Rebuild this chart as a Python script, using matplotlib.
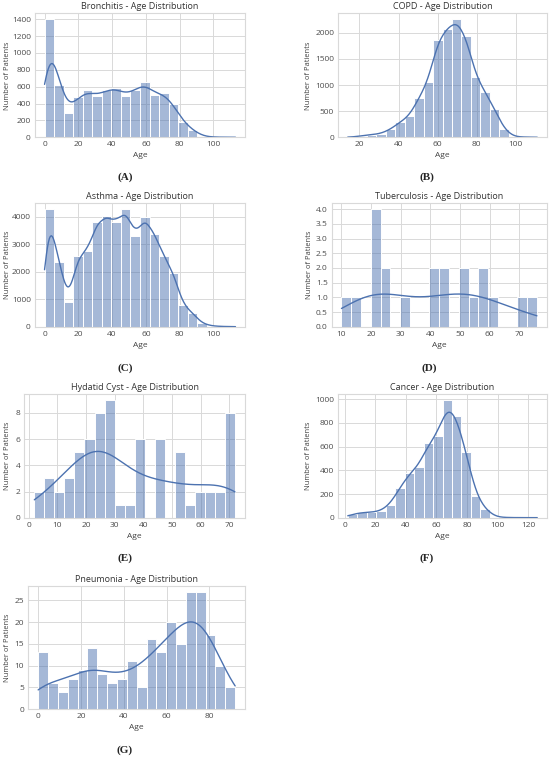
import numpy as np
import matplotlib.pyplot as plt
import seaborn as sns
from matplotlib.ticker import MultipleLocator

sns.set_theme(style='whitegrid')
plt.rcParams['font.family'] = ['Open Sans', 'DejaVu Sans']

# 20 equal-width age bins per disease: (min age, max age) and patient counts
bronchitis_range = (0, 113)
bronchitis_counts = [1400, 620, 285, 480, 555, 485, 560, 590, 495, 560,
                     660, 505, 530, 390, 180, 90, 10, 3, 1, 1]

copd_range = (14, 111)
copd_counts = [5, 30, 50, 70, 150, 290, 400, 750, 1060, 1870,
               2080, 2260, 1930, 1160, 870, 540, 150, 10, 5, 2]

asthma_range = (0, 113)
asthma_counts = [4280, 2350, 900, 2580, 2770, 3800, 4020, 3820, 4270, 3310,
                 3990, 3380, 2580, 1960, 800, 500, 120, 30, 10, 3]

tb_range = (10, 76)
tb_counts = [1, 1, 0, 4, 2, 0, 1, 0, 0, 2, 2, 0, 2, 1, 2, 1, 0, 0, 1, 1]

hydatid_range = (2, 72)
hydatid_counts = [2, 3, 2, 3, 5, 6, 8, 9, 1, 1, 6, 0, 6, 0, 5, 1, 2, 2, 2, 8]

cancer_range = (2, 126)
cancer_counts = [30, 45, 45, 55, 110, 255, 375, 430, 630, 690,
                 995, 855, 555, 180, 75, 5, 2, 1, 0, 1]

pneumonia_range = (0, 92)
pneumonia_counts = [13, 6, 4, 7, 9, 14, 8, 6, 7, 11,
                    5, 16, 13, 20, 15, 27, 27, 17, 10, 5]

W, H = 550, 759
fig = plt.figure(figsize=(W / 100, H / 100), dpi=100)


def px_axes(left, top, right, bottom):
    return fig.add_axes([left / W, 1 - bottom / H, (right - left) / W, (bottom - top) / H])


# name, range, counts, axes box (px), x step, y step, kde bw_adjust, letter position
panels = [
    ('Bronchitis', bronchitis_range, bronchitis_counts, (35, 13.3, 245, 137.3), 20, 200, 1.1, (125, 177), 'A'),
    ('COPD', copd_range, copd_counts, (338.3, 13.3, 546.7, 137.3), 20, 500, 1.75, (427, 177), 'B'),
    ('Asthma', asthma_range, asthma_counts, (35, 203.3, 245, 326.7), 20, 1000, 1.3, (125, 368), 'C'),
    ('Tuberculosis', tb_range, tb_counts, (331.7, 203.3, 546.7, 326.7), 10, 0.5, 1.0, (429, 368), 'D'),
    ('Hydatid Cyst', hydatid_range, hydatid_counts, (24.3, 394, 245, 517.7), 10, 2, 1.0, (125, 558), 'E'),
    ('Cancer', cancer_range, cancer_counts, (338.3, 394, 546.7, 517.7), 20, 200, 1.6, (427, 558), 'F'),
    ('Pneumonia', pneumonia_range, pneumonia_counts, (28.3, 585.7, 245, 709), 20, 5, 1.0, (125, 750), 'G'),
]

for name, rng, counts, box, xstep, ystep, bw, letter_xy, letter in panels:
    ax = px_axes(*box)
    edges = np.linspace(rng[0], rng[1], len(counts) + 1)
    centers = (edges[:-1] + edges[1:]) / 2
    ages = np.repeat(centers, counts)
    sns.histplot(x=ages, bins=edges, kde=True, ax=ax, color='#4C72B0',
                 edgecolor='white', linewidth=0.7,
                 kde_kws={'cut': 3, 'clip': rng, 'bw_adjust': bw},
                 line_kws={'linewidth': 1.0})
    ax.set_title(f'{name} - Age Distribution', fontsize=6.5, pad=3, color='0.2')
    ax.set_xlabel('Age', fontsize=6, color='0.25')
    ax.set_ylabel('Number of Patients', fontsize=5.4, color='0.25')
    ax.xaxis.set_major_locator(MultipleLocator(xstep))
    ax.yaxis.set_major_locator(MultipleLocator(ystep))
    ax.tick_params(labelsize=6, length=0, pad=3, colors='0.3')
    for s in ax.spines.values():
        s.set_color('0.85')
        s.set_linewidth(0.8)
    ax.grid(color='0.85', linewidth=0.7)
    l, t, r, b = box
    # y label centre sits about 7 px from the panel's left edge
    ylab_right = 11.5 if l < 275 else 312.5
    ax.yaxis.set_label_coords((ylab_right - l) / (r - l), 0.5)
    ax.xaxis.set_label_coords(0.5, -15 / (b - t))
    fig.text(letter_xy[0] / W, 1 - letter_xy[1] / H, f'({letter})', ha='center', va='center',
             fontsize=8, fontweight='bold', family='Liberation Serif')

fig.savefig('out.png', dpi=100)
